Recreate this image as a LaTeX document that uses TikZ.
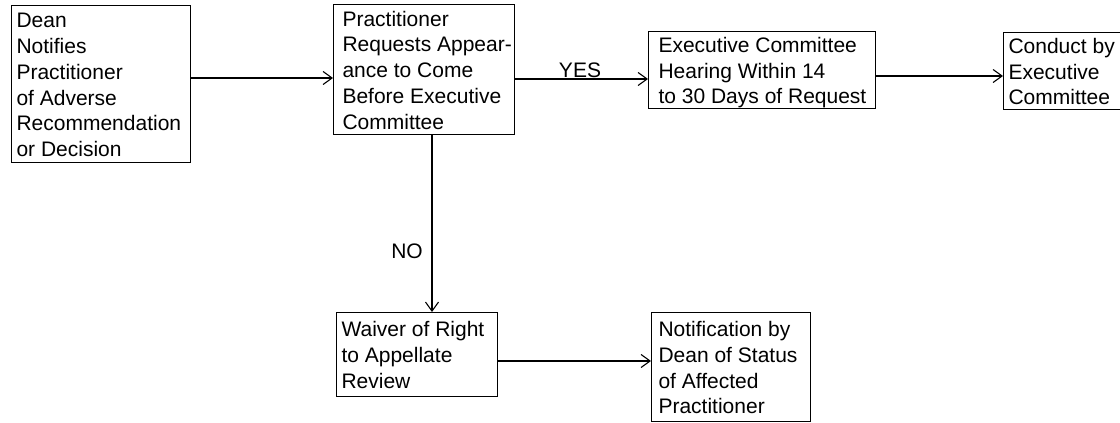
\documentclass[tikz,border=0pt]{standalone}
\usepackage{fontspec}
\setmainfont{Liberation Sans}
\usetikzlibrary{arrows.meta}
\newcommand\bxt[3]{\makebox[#1][l]{\hspace*{#2}\raisebox{-3pt}[\height][\depth]{\begin{tabular}{@{}l@{}}#3\end{tabular}}}}
\tikzset{
  box/.style={draw, line width=1.1pt, inner sep=0pt, anchor=north west, font=\fontsize{21}{25.7}\selectfont},
  arr/.style={line width=1.1pt, -{Straight Barb[length=9pt,width=13pt]}},
  lbl/.style={font=\fontsize{21}{25.7}\selectfont, inner sep=0pt}
}
\begin{document}
\begin{tikzpicture}[x=1pt,y=-1pt]
\clip (0,0) rectangle (1120,423);
\node[box, minimum height=157pt] (A) at (11,5) {\bxt{179pt}{5pt}{Dean\\Notifies\\Practitioner\\of Adverse\\Recommendation\\or Decision}};
\node[box, minimum height=130pt] (B) at (333,4) {\bxt{181pt}{9pt}{Practitioner\\Requests Appear-\\ance to Come\\Before Executive\\Committee}};
\node[box, minimum height=77pt] (C) at (648,31) {\bxt{227pt}{10pt}{Executive Committee\\Hearing Within 14\\to 30 Days of Request}};
\node[box, minimum height=76pt] (D) at (1003,32) {\bxt{140pt}{5pt}{Conduct by\\Executive\\Committee}};
\node[box, minimum height=84pt] (E) at (336,312) {\bxt{161pt}{5pt}{Waiver of Right\\to Appellate\\Review}};
\node[box, minimum height=109pt] (F) at (651,312) {\bxt{159pt}{7pt}{Notification by\\Dean of Status\\of Affected\\Practitioner}};
\coordinate (h1) at (0,78);
\coordinate (h2) at (0,79);
\coordinate (h3) at (0,76);
\coordinate (h4) at (0,361);
\coordinate (v1) at (432,0);
\draw[arr] (A.east |- h1) -- (B.west |- h1);
\draw[arr] (B.east |- h2) -- (C.west |- h2);
\draw[arr] (C.east |- h3) -- (D.west |- h3);
\draw[arr] (B.south -| v1) -- (E.north -| v1);
\draw[arr] (E.east |- h4) -- (F.west |- h4);
\node[lbl] (yes) at (580,70) {YES};
\node[lbl] (no) at (407,251) {NO};
\end{tikzpicture}
\end{document}
